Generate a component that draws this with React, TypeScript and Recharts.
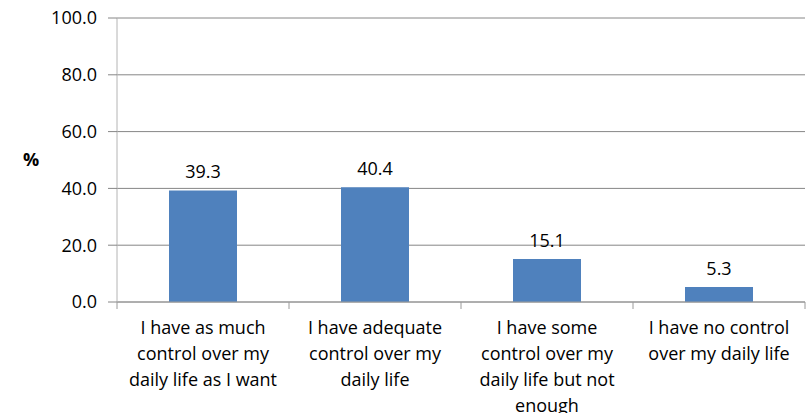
import React from 'react';
import { BarChart, Bar, XAxis, YAxis, CartesianGrid, LabelList } from 'recharts';

const categories = [
  'I have as much\ncontrol over my\ndaily life as I want',
  'I have adequate\ncontrol over my\ndaily life',
  'I have some\ncontrol over my\ndaily life but not\nenough',
  'I have no control\nover my daily life',
];
const values = [39.3, 40.4, 15.1, 5.3];
const yTicks = [0, 20, 40, 60, 80, 100];

const data = categories.map((c, i) => ({ name: c, value: values[i] }));

const FONT = '"Open Sans", sans-serif';
const AXIS_GREY = '#9a9a9a';

const CategoryTick = (props: any) => {
  const { x, y, payload, index } = props;
  const half = payload && payload.offset ? payload.offset : 86;
  const lines = String(payload.value).split('\n');
  const axisY = y - 8;
  return (
    <g>
      <line x1={x - half} x2={x - half} y1={axisY} y2={axisY + 7} stroke={AXIS_GREY} />
      {index === categories.length - 1 && (
        <line x1={x + half} x2={x + half} y1={axisY} y2={axisY + 7} stroke={AXIS_GREY} />
      )}
      <text x={x} y={y + 18} textAnchor="middle" fontSize={18} fontFamily={FONT} fill="#000">
        {lines.map((l, i) => (
          <tspan key={i} x={x} dy={i === 0 ? '0.35em' : 26}>
            {l}
          </tspan>
        ))}
      </text>
    </g>
  );
};

export default function App() {
  return (
    <div style={{ position: 'absolute', left: 0, top: 0, background: '#fff' }}>
      <BarChart
        width={808}
        height={413}
        data={data}
        margin={{ top: 18, right: 3, bottom: 0, left: 0 }}
      >
        <CartesianGrid vertical={false} stroke="#868686" />
        <XAxis
          dataKey="name"
          height={111}
          interval={0}
          tickLine={false}
          tickSize={6}
          tickMargin={2}
          axisLine={{ stroke: AXIS_GREY }}
          tick={<CategoryTick />}
        />
        <YAxis
          width={117}
          domain={[0, 100]}
          ticks={yTicks}
          interval={0}
          tickFormatter={(v: number) => v.toFixed(1)}
          tickSize={9}
          tickMargin={11}
          axisLine={{ stroke: '#b4b4b4' }}
          tickLine={{ stroke: '#868686' }}
          tick={{ fill: '#000', fontSize: 18, fontFamily: FONT }}
          label={{
            value: '%',
            position: 'insideLeft',
            offset: 23,
            fill: '#000',
            fontSize: 18,
            fontWeight: 'bold',
            fontFamily: FONT,
          }}
        />
        <Bar dataKey="value" fill="#4f81bd" barSize={68} isAnimationActive={false}>
          <LabelList
            dataKey="value"
            position="top"
            offset={12}
            formatter={(v: any) => Number(v).toFixed(1)}
            fill="#000"
            fontSize={18}
            fontFamily={FONT}
          />
        </Bar>
      </BarChart>
    </div>
  );
}
